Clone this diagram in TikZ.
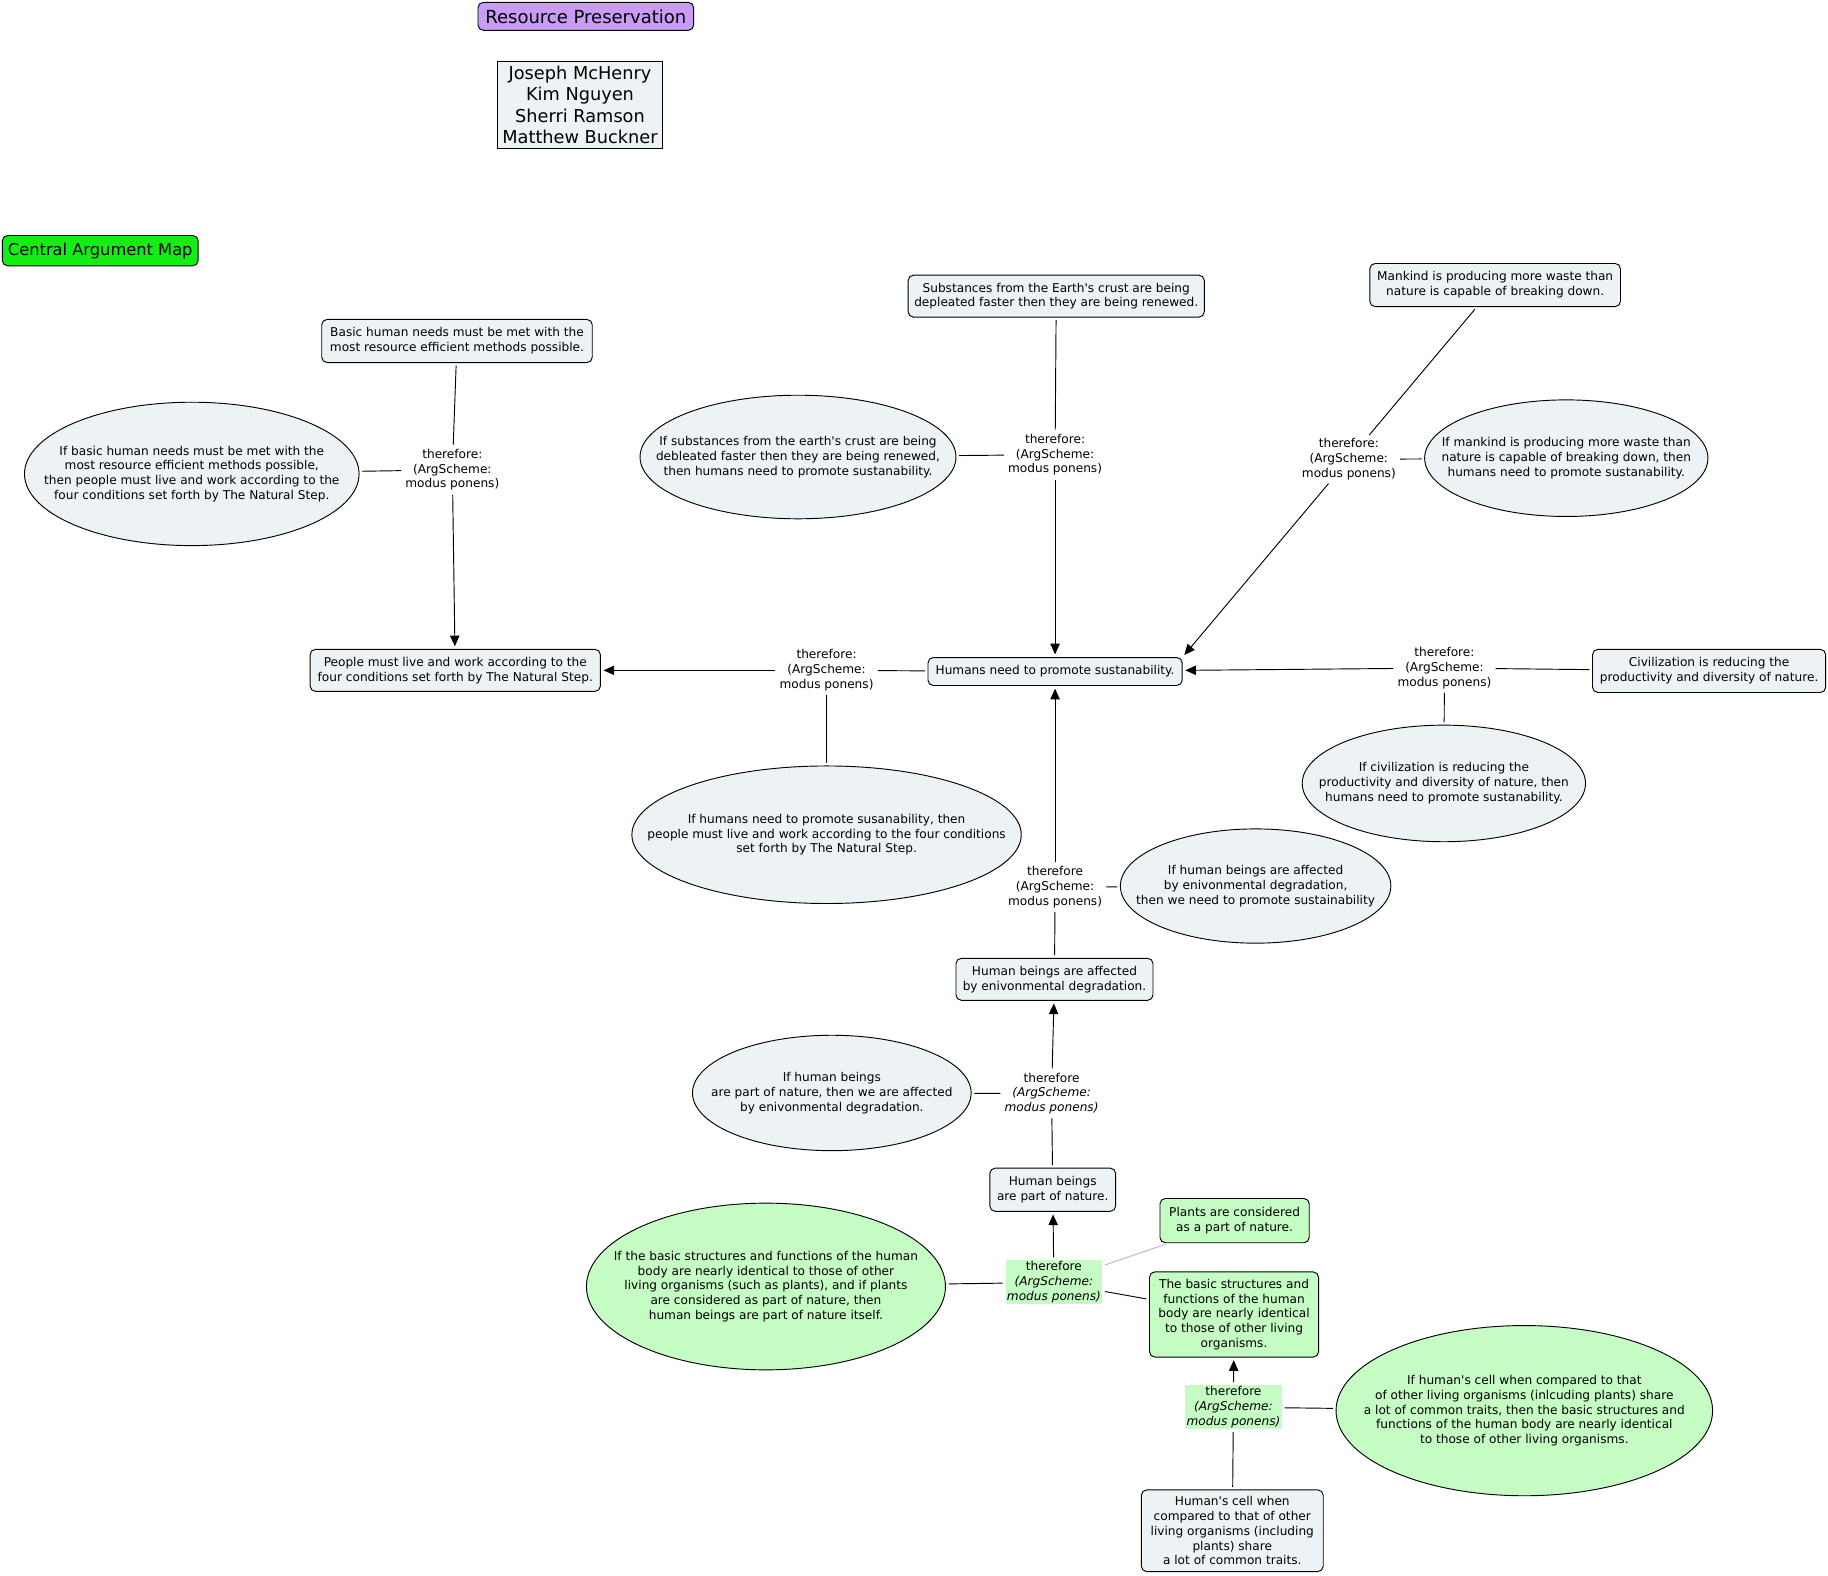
\documentclass[tikz,border=0pt]{standalone}
\usepackage{fontspec}
\setmainfont{DejaVu Sans}
\usetikzlibrary{shapes.geometric,arrows.meta}

\newcommand\mapfont{\fontsize{9.1}{11.1}\selectfont}
\newcommand\namefont{\fontsize{13.3}{16.2}\selectfont}
\newcommand\q{\textquotesingle}

\begin{document}
\begin{tikzpicture}[x=0.8744pt, y=-0.8744pt, >={Triangle[width=7pt,length=8pt]}]
  \definecolor{mapfill}{HTML}{EDF3F5}
  \definecolor{mapgreen}{HTML}{C4FCC4}
  \definecolor{maplime}{HTML}{14EE14}
  \definecolor{maplilac}{HTML}{C89BF5}
  \definecolor{mapwire}{HTML}{CBAAE3}
  \tikzset{
    sz/.style 2 args={minimum width=#1*0.8744pt, minimum height=#2*0.8744pt},
    box/.style={draw, line width=0.7pt, rounded corners=4pt, fill=mapfill,
      align=center, inner sep=1pt, font=\mapfont},
    oval/.style={draw, line width=0.7pt, ellipse, fill=mapfill, align=center,
      inner sep=-90pt, font=\mapfont},
    lbl/.style={align=center, inner sep=1pt, font=\mapfont},
    link/.style={line width=0.7pt, shorten <=2pt, shorten >=2pt},
    infer/.style={link, ->},
  }
  \useasboundingbox (0,0) rectangle (1568,1351);

  % ---- header ----------------------------------------------------------------
  \node[box, fill=maplilac, sz={185}{24}, font=\fontsize{13.5}{15}\selectfont]
    (title) at (502.5,14) {Resource Preservation};
  \node[box, rounded corners=0pt, sz={141}{74}, font=\namefont]
    (authors) at (497.5,90) {Joseph McHenry\\Kim Nguyen\\Sherri Ramson\\Matthew Buckner};
  \node[box, fill=maplime, sz={168}{26}, font=\fontsize{12.2}{14}\selectfont]
    (central) at (86,215) {Central Argument Map};

  % ---- claims (boxes) --------------------------------------------------------
  \node[box, sz={232}{37}] (basic) at (392,292.5)
    {Basic human needs must be met with the\\most resource efficient methods possible.};
  \node[box, sz={249}{36}] (people) at (390.5,575)
    {People must live and work according to the\\four conditions set forth by The Natural Step.};
  \node[box, sz={254}{36}] (crust) at (906,254)
    {Substances from the Earth\q s crust are being\\depleated faster then they are being renewed.};
  \node[box, sz={218}{24}] (humans) at (905,576)
    {Humans need to promote sustanability.};
  \node[box, sz={215}{37}] (waste) at (1282.5,244.5)
    {Mankind is producing more waste than\\nature is capable of breaking down.};
  \node[box, sz={200}{37}] (civil) at (1466,575.5)
    {Civilization is reducing the\\productivity and diversity of nature.};
  \node[box, sz={169}{36}] (affected) at (904.5,840)
    {Human beings are affected\\by enivonmental degradation.};
  \node[box, sz={108}{37}] (nature) at (903,1020.5)
    {Human beings\\are part of nature.};
  \node[box, fill=mapgreen, sz={128}{38}] (plants) at (1059,1047)
    {Plants are considered\\as a part of nature.};
  \node[box, fill=mapgreen, sz={145}{73}] (struct) at (1058.5,1127.5)
    {The basic structures and\\functions of the human\\body are nearly identical\\to those of other living\\organisms.};
  \node[box, sz={156}{70}] (cell) at (1057,1313)
    {Human\q s cell when\\compared to that of other\\living organisms (including\\plants) share\\a lot of common traits.};

  % ---- warrants (ellipses) ---------------------------------------------------
  \node[oval, sz={287}{123}] (ifbasic) at (164.5,406.5)
    {If basic human needs must be met with the\\most resource efficient methods possible,\\then people must live and work according to the\\four conditions set forth by The Natural Step.};
  \node[oval, sz={271}{106}] (ifcrust) at (684.5,392)
    {If substances from the earth\q s crust are being\\debleated faster then they are being renewed,\\then humans need to promote sustanability.};
  \node[oval, sz={243}{100}] (ifwaste) at (1343.5,393)
    {If mankind is producing more waste than\\nature is capable of breaking down, then\\humans need to promote sustanability.};
  \node[oval, sz={334}{118}] (ifpeople) at (709,716)
    {If humans need to promote susanability, then\\people must live and work according to the four conditions\\set forth by The Natural Step.};
  \node[oval, sz={243}{100}] (ifcivil) at (1238.5,672)
    {If civilization is reducing the\\productivity and diversity of nature, then\\humans need to promote sustanability.};
  \node[oval, sz={232}{98}] (ifaffect) at (1077,760)
    {If human beings are affected\\by enivonmental degradation,\\then we need to promote sustainability};
  \node[oval, sz={239}{99}] (ifnature) at (713.5,937.5)
    {If human beings\\are part of nature, then we are affected\\by enivonmental degradation.};
  \node[oval, fill=mapgreen, sz={308}{143}] (ifstruct) at (657,1103.5)
    {If the basic structures and functions of the human\\body are nearly identical to those of other\\living organisms (such as plants), and if plants\\are considered as part of nature, then\\human beings are part of nature itself.};
  \node[oval, fill=mapgreen, sz={323}{146}] (ifcell) at (1307.5,1210)
    {If human\q s cell when compared to that\\of other living organisms (inlcuding plants) share\\a lot of common traits, then the basic structures and\\functions of the human body are nearly identical\\to those of other living organisms.};

  % ---- inference labels ------------------------------------------------------
  \foreach \nm/\xx/\yy in {t1/388/403, t2/905/390, t3/1157/394, t4/709/575, t5/1239/573}
    \node[lbl] (\nm) at (\xx,\yy) {therefore:\\(ArgScheme:\\modus ponens)};
  \node[lbl] (t6) at (905,761) {therefore\\(ArgScheme:\\modus ponens)};
  \node[lbl] (t7) at (902,938) {therefore\\\textit{(ArgScheme:}\\\textit{modus ponens)}};
  \node[lbl, fill=mapgreen] (t8) at (904,1100) {therefore\\\textit{(ArgScheme:}\\\textit{modus ponens)}};
  \node[lbl, fill=mapgreen] (t9) at (1058,1207) {therefore\\\textit{(ArgScheme:}\\\textit{modus ponens)}};

  % ---- connectors ------------------------------------------------------------
  \draw[link] (basic) -- (t1);  \draw[link] (ifbasic) -- (t1);  \draw[infer] (t1) -- (people);
  \draw[link] (crust) -- (t2);  \draw[link] (ifcrust) -- (t2);  \draw[infer] (t2) -- (humans);
  \draw[link] (waste) -- (t3);  \draw[link] (ifwaste) -- (t3);  \draw[infer] (t3) -- (humans.north east);
  \draw[link] (humans) -- (t4); \draw[link] (ifpeople) -- (t4); \draw[infer] (t4) -- (people);
  \draw[link] (civil) -- (t5);  \draw[link] (ifcivil) -- (t5);  \draw[infer] (t5) -- (humans);
  \draw[link] (affected) -- (t6); \draw[link] (ifaffect) -- (t6); \draw[infer] (t6) -- (humans);
  \draw[link] (nature) -- (t7); \draw[link] (ifnature) -- (t7); \draw[infer] (t7) -- (affected);
  \draw[link] (struct) -- (t8); \draw[link] (ifstruct) -- (t8); \draw[link, mapwire] (plants) -- (t8);
  \draw[infer] (t8) -- (nature);
  \draw[link] (cell) -- (t9);   \draw[link] (ifcell) -- (t9);   \draw[infer] (t9) -- (struct);
\end{tikzpicture}
\end{document}
